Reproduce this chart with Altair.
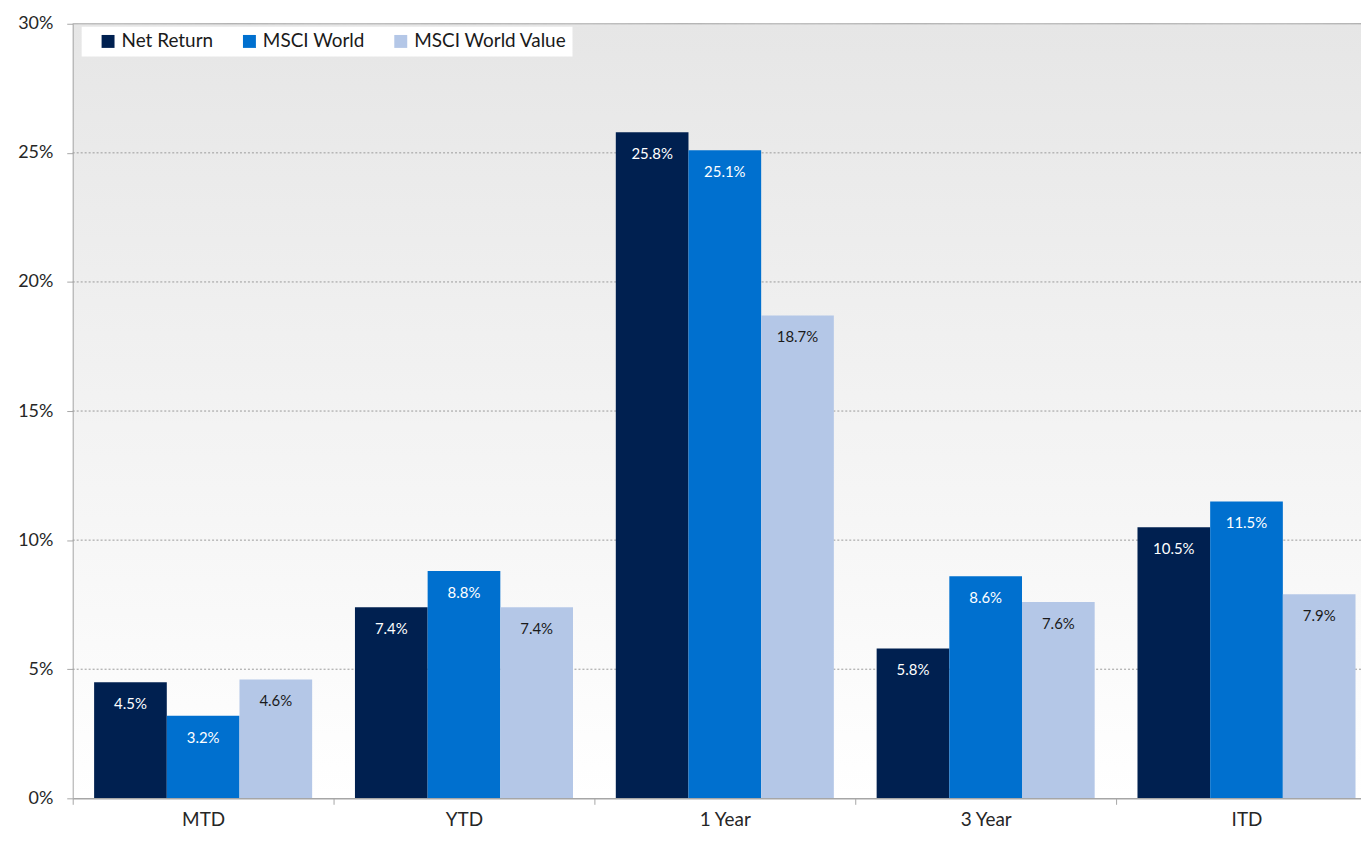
import altair as alt
import pandas as pd

# ---- data ----
categories = ["MTD", "YTD", "1 Year", "3 Year", "ITD"]
series_names = ["Net Return", "MSCI World", "MSCI World Value"]
net_return = [4.5, 7.4, 25.8, 5.8, 10.5]
msci_world = [3.2, 8.8, 25.1, 8.6, 11.5]
msci_world_value = [4.6, 7.4, 18.7, 7.6, 7.9]
y_ticks = [0, 5, 10, 15, 20, 25, 30]
colors = ["#002050", "#0070CF", "#B4C7E7"]

rows = []
for s, vals in zip(series_names, [net_return, msci_world, msci_world_value]):
    for c, v in zip(categories, vals):
        rows.append({"category": c, "series": s, "value": v / 100})
df = pd.DataFrame(rows)

grid_df = pd.DataFrame({"tick": [t / 100 for t in y_ticks[1:]]})
bg_df = pd.DataFrame({"bg": [0]})

FONT = "Lato"
W, H = 1294, 778
BAND_SPAN = 1310  # five category bands; the last one runs past the right edge

x_scale = alt.Scale(domain=categories, range=[0, BAND_SPAN],
                    paddingInner=0, paddingOuter=0)
y_scale = alt.Scale(domain=[0, 0.30], nice=False)
off_scale = alt.Scale(domain=series_names, paddingInner=0, paddingOuter=0.2945)

x_axis = alt.Axis(title=None, labelFont=FONT, labelFontSize=19, labelColor="#262626",
                  labelPadding=6, tickSize=6, tickColor="#a6a6a6", domainColor="#a6a6a6",
                  domainWidth=1.5, tickBand="extent", labelAngle=0, grid=False, zindex=1)
y_axis = alt.Axis(title=None, values=[t / 100 for t in y_ticks], format=".0%",
                  labelFont=FONT, labelFontSize=18, labelColor="#262626", labelPadding=14,
                  tickSize=6, tickColor="#a6a6a6", domainColor="#a6a6a6", grid=False, zindex=1)

bg = alt.Chart(bg_df).mark_rect(
    color=alt.Gradient(
        gradient="linear",
        stops=[alt.GradientStop(color="#e6e6e6", offset=0),
               alt.GradientStop(color="#ffffff", offset=1)],
        x1=0, x2=0, y1=0, y2=1,
    )
).encode(x=alt.value(0), x2=alt.value("width"), y=alt.value(0), y2=alt.value("height"))

grid = alt.Chart(grid_df).mark_rule(color="#9a9a9a", strokeWidth=1).encode(
    y=alt.Y("tick:Q", scale=y_scale, axis=y_axis),
    x=alt.value(0), x2=alt.value("width"),
    strokeDash=alt.condition("datum.tick >= 0.299", alt.value([1, 0]), alt.value([2, 2])),
)

bars = alt.Chart(df).mark_bar().encode(
    x=alt.X("category:N", scale=x_scale, axis=x_axis),
    xOffset=alt.XOffset("series:N", scale=off_scale),
    y=alt.Y("value:Q", scale=y_scale, axis=y_axis),
    color=alt.Color(
        "series:N",
        scale=alt.Scale(domain=series_names, range=colors),
        legend=alt.Legend(
            title=" ", titleOrient="left", titleFontSize=19, titlePadding=12,
            orient="none", legendX=9, legendY=3, direction="horizontal", columns=3,
            fillColor="white", padding=5, symbolType="square", symbolSize=169,
            symbolStrokeWidth=0, symbolOpacity=1, labelFont=FONT, labelFontSize=19,
            labelColor="#1a1a1a", labelOffset=4, columnPadding=26, labelLimit=300,
        ),
    ),
)

labels = alt.Chart(df).mark_text(font=FONT, fontSize=15, dy=22, baseline="middle").encode(
    x=alt.X("category:N", scale=x_scale, axis=x_axis),
    xOffset=alt.XOffset("series:N", scale=off_scale),
    y=alt.Y("value:Q", scale=y_scale, axis=y_axis),
    text=alt.Text("value:Q", format=".1%"),
    color=alt.condition("datum.series === 'MSCI World Value'",
                        alt.value("#1a1a1a"), alt.value("#ffffff")),
)

chart = alt.layer(bg, grid, bars, labels).properties(
    width=W, height=H,
    autosize=alt.AutoSizeParams(type="none"),
    padding={"left": 65, "top": 14, "right": 0, "bottom": 34},
).configure_view(stroke=None)

chart.save("out.html", embed_options={"renderer": "svg", "actions": False})
